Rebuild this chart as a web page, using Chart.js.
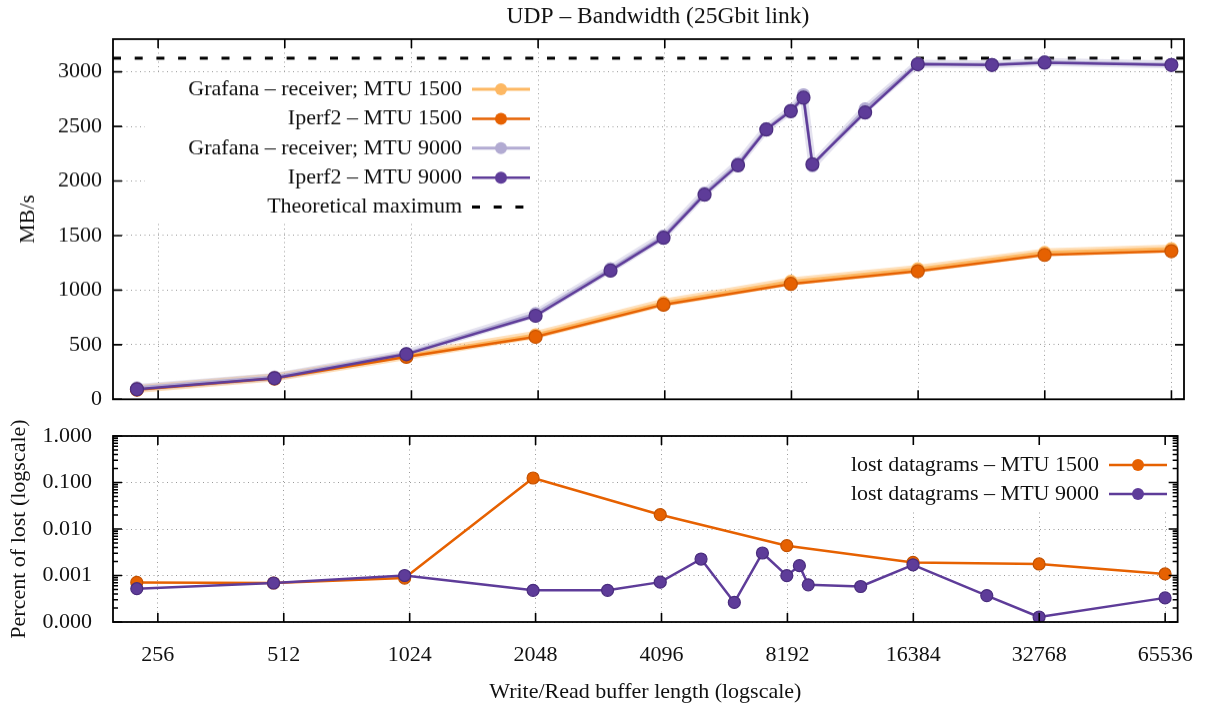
<!DOCTYPE html>
<html>
<head>
<meta charset="utf-8">
<title>UDP - Bandwidth</title>
<script src="https://cdn.jsdelivr.net/npm/chart.js@4.4.0/dist/chart.umd.min.js"></script>
<style>
    html, body { margin: 0; padding: 0; background: #fff; }
    body { width: 1213px; height: 712px; position: relative; overflow: hidden; }
    .panel { position: absolute; left: 0; width: 1213px; }
    #bandwidthPanel { top: 0; height: 411.5px; }
    #lostPanel { top: 410px; height: 302px; }
</style>
</head>
<body>
<div class="panel" id="bandwidthPanel"><canvas id="bandwidthCanvas"></canvas></div>
<div class="panel" id="lostPanel"><canvas id="lostCanvas"></canvas></div>
<script>
const bufferTicks = [256, 512, 1024, 2048, 4096, 8192, 16384, 32768, 65536];
const bandwidthTicks = [0, 500, 1000, 1500, 2000, 2500, 3000];
const lostTicks = [0.0001, 0.001, 0.01, 0.1, 1];

const bufferMtu1500 = [228, 484, 996, 2020, 4068, 8164, 16356, 32740, 65508];
const bufferMtu9000 = [228, 484, 996, 2020, 3044, 4068, 5092, 6116, 7140, 8164, 8750, 9188, 12260, 16356, 24548, 32740, 65508];

const grafana1500 = [95, 200, 398, 590, 885, 1080, 1195, 1345, 1380];
const iperf1500 = [88, 190, 389, 572, 867, 1057, 1173, 1323, 1357];
const grafana9000 = [105, 205, 420, 785, 1195, 1495, 1890, 2160, 2480, 2650, 2790, 2140, 2660, 3075, 3068, 3092, 3068];
const iperf9000 = [92, 193, 413, 765, 1179, 1480, 1875, 2144, 2472, 2640, 2763, 2153, 2628, 3070, 3063, 3085, 3063];
const theoreticalMax = 3125;

const lost1500 = [0.00071, 0.00069, 0.00088, 0.125, 0.0203, 0.00438, 0.00191, 0.00177, 0.00108];
const lost9000 = [0.00052, 0.00069, 0.00100, 0.00048, 0.00048, 0.00072, 0.00226, 0.000264, 0.00305, 0.00099, 0.00163, 0.00063, 0.00058, 0.0017, 0.00037, 0.000128, 0.00033];

const ORANGE = '#e66101';
const LIGHT_ORANGE = '#fdb863';
const LIGHT_PURPLE = '#b2abd2';
const PURPLE = '#5e3c99';
const FONT = '"Liberation Serif", "DejaVu Serif", serif';
const X_MIN = 200;
const X_MAX = 70200;

Chart.defaults.font.family = FONT;
Chart.defaults.font.size = 22;
Chart.defaults.color = '#111';

function toPoints(xs, ys) {
    return xs.map((x, i) => ({ x: x, y: ys[i] }));
}

function lineSet(label, xs, ys, color, width, order, radius, ring) {
    return {
        label: label,
        data: toPoints(xs, ys),
        borderColor: color,
        backgroundColor: color,
        borderWidth: width,
        borderJoinStyle: 'round',
        borderCapStyle: 'round',
        pointRadius: radius,
        pointBackgroundColor: color,
        pointBorderColor: ring || color,
        pointBorderWidth: 1.2,
        tension: 0,
        order: order
    };
}

function bufferAxis(showLabels) {
    return {
        type: 'logarithmic',
        min: X_MIN,
        max: X_MAX,
        afterBuildTicks: (scale) => { scale.ticks = bufferTicks.map(v => ({ value: v })); },
        ticks: { display: showLabels, padding: 20, maxRotation: 0, autoSkip: false, callback: (v) => String(v) },
        grid: { color: '#9a9a9a', lineWidth: 1, drawTicks: false },
        border: { display: false, dash: [1, 3.5] }
    };
}

// the label gap is made with an invisible tick mark so it does not grow the top/bottom padding
function valueGrid(gap) {
    return { color: '#9a9a9a', lineWidth: 1, drawTicks: true, tickLength: gap, tickColor: 'rgba(0,0,0,0)' };
}

// frame, inward ticks on all four sides, white legend box and legend text
const gnuplotFrame = {
    id: 'gnuplotFrame',
    beforeDatasetsDraw(chart, args, opts) {
        const ctx = chart.ctx;
        ctx.save();
        ctx.fillStyle = '#fff';
        ctx.fillRect(opts.box[0], opts.box[1], opts.box[2], opts.box[3]);
        ctx.restore();
    },
    afterDraw(chart, args, opts) {
        const { ctx, chartArea: a, scales } = chart;
        ctx.save();
        ctx.strokeStyle = '#000';
        ctx.lineWidth = 1.6;
        ctx.beginPath();
        bufferTicks.forEach(v => {
            const px = scales.x.getPixelForValue(v);
            ctx.moveTo(px, a.bottom); ctx.lineTo(px, a.bottom - 9);
            ctx.moveTo(px, a.top); ctx.lineTo(px, a.top + 9);
        });
        opts.yMajor.forEach(v => {
            const py = scales.y.getPixelForValue(v);
            ctx.moveTo(a.left, py); ctx.lineTo(a.left + 9, py);
            ctx.moveTo(a.right, py); ctx.lineTo(a.right - 9, py);
        });
        opts.yMinor.forEach(v => {
            const py = scales.y.getPixelForValue(v);
            ctx.moveTo(a.left, py); ctx.lineTo(a.left + 5, py);
            ctx.moveTo(a.right, py); ctx.lineTo(a.right - 5, py);
        });
        ctx.stroke();
        ctx.lineWidth = 1.8;
        ctx.strokeRect(a.left, a.top, a.right - a.left, a.bottom - a.top);

        ctx.font = '22px ' + FONT;
        ctx.textBaseline = 'middle';
        ctx.textAlign = 'right';
        opts.legend.forEach((item, i) => {
            const y = opts.legendTop + i * opts.legendRow;
            const x = opts.legendRight;
            ctx.fillStyle = '#111';
            ctx.fillText(item.label, x, y);
            ctx.strokeStyle = item.color;
            ctx.lineWidth = item.width;
            ctx.setLineDash(item.dash || []);
            ctx.beginPath();
            ctx.moveTo(x + 10, y);
            ctx.lineTo(x + 68, y);
            ctx.stroke();
            ctx.setLineDash([]);
            if (item.marker) {
                ctx.fillStyle = item.color;
                ctx.beginPath();
                ctx.arc(x + 39, y, 6, 0, Math.PI * 2);
                ctx.fill();
            }
        });

        if (opts.title) {
            ctx.font = '23.5px ' + FONT;
            ctx.textAlign = 'center';
            ctx.fillStyle = '#111';
            ctx.fillText(opts.title, 658, 17);
        }
        ctx.restore();
    }
};

function create_BandwidthChart() {
    const context = document.getElementById('bandwidthCanvas').getContext('2d');
    const datasets = [
        lineSet('Iperf2 – MTU 9000', bufferMtu9000, iperf9000, PURPLE, 2.5, 0, 6.5, '#4a2d7e'),
        lineSet('Iperf2 – MTU 1500', bufferMtu1500, iperf1500, ORANGE, 2.5, 1, 6.5, '#c55200'),
        lineSet('Grafana – receiver; MTU 9000', bufferMtu9000, grafana9000, LIGHT_PURPLE, 3, 2, 6),
        lineSet('Grafana – receiver; MTU 1500', bufferMtu1500, grafana1500, LIGHT_ORANGE, 3, 3, 6),
        lineSet('band 9000', bufferMtu9000, grafana9000, 'rgba(178,171,210,0.35)', 8, 4, 0),
        lineSet('band 1500', bufferMtu1500, grafana1500, 'rgba(253,184,99,0.45)', 8, 5, 0),
        {
            label: 'Theoretical maximum',
            data: [{ x: X_MIN, y: theoreticalMax }, { x: X_MAX, y: theoreticalMax }],
            borderColor: '#000',
            borderWidth: 3,
            borderDash: [8, 13.7],
            pointRadius: 0,
            order: 6
        }
    ];

    new Chart(context, {
        type: 'line',
        data: { datasets: datasets },
        options: {
            responsive: true,
            maintainAspectRatio: false,
            animation: false,
            layout: { padding: { top: 39, right: 29, bottom: 0, left: 0 } },
            scales: {
                x: Object.assign(bufferAxis(false), { afterFit: (s) => { s.height = 0; } }),
                y: {
                    min: 0,
                    max: 3300,
                    afterBuildTicks: (scale) => { scale.ticks = bandwidthTicks.map(v => ({ value: v })); },
                    afterFit: (s) => { s.width = 113; },
                    ticks: { padding: 0, callback: (v) => String(v) },
                    grid: valueGrid(11),
                    border: { display: false, dash: [1, 3.5] },
                    title: { display: true, text: 'MB/s', padding: { top: 15, bottom: 0 } }
                }
            },
            plugins: {
                legend: { display: false },
                tooltip: { enabled: false },
                gnuplotFrame: {
                    box: [145, 75, 388, 145],
                    yMajor: bandwidthTicks,
                    yMinor: [],
                    legendTop: 89,
                    legendRow: 29.4,
                    legendRight: 462,
                    title: 'UDP – Bandwidth (25Gbit link)',
                    legend: [
                        { label: 'Grafana – receiver; MTU 1500', color: LIGHT_ORANGE, width: 3, marker: true },
                        { label: 'Iperf2 – MTU 1500', color: ORANGE, width: 2.5, marker: true },
                        { label: 'Grafana – receiver; MTU 9000', color: LIGHT_PURPLE, width: 3, marker: true },
                        { label: 'Iperf2 – MTU 9000', color: PURPLE, width: 2.5, marker: true },
                        { label: 'Theoretical maximum', color: '#000', width: 3, dash: [8, 13.7], marker: false }
                    ]
                }
            }
        },
        plugins: [gnuplotFrame]
    });
}

function create_LostChart() {
    const context = document.getElementById('lostCanvas').getContext('2d');
    const minor = [];
    [0.0001, 0.001, 0.01, 0.1].forEach(d => {
        for (let k = 2; k <= 9; k++) minor.push(d * k);
    });

    new Chart(context, {
        type: 'line',
        data: {
            datasets: [
                lineSet('lost datagrams – MTU 9000', bufferMtu9000, lost9000, PURPLE, 2.5, 0, 6, '#4a2d7e'),
                lineSet('lost datagrams – MTU 1500', bufferMtu1500, lost1500, ORANGE, 2.5, 1, 6, '#c55200')
            ]
        },
        options: {
            responsive: true,
            maintainAspectRatio: false,
            animation: false,
            layout: { padding: { top: 26, right: 29, bottom: 0, left: 0 } },
            scales: {
                x: Object.assign(bufferAxis(true), {
                    afterFit: (s) => { s.height = 90; },
                    title: { display: true, text: 'Write/Read buffer length (logscale)', padding: { top: 0, bottom: 7 } }
                }),
                y: {
                    type: 'logarithmic',
                    min: 0.0001,
                    max: 1,
                    afterBuildTicks: (scale) => { scale.ticks = lostTicks.map(v => ({ value: v })); },
                    afterFit: (s) => { s.width = 113; },
                    ticks: { padding: 0, callback: (v) => Number(v).toFixed(3) },
                    grid: valueGrid(21),
                    border: { display: false, dash: [1, 3.5] },
                    title: { display: true, text: 'Percent of lost (logscale)', padding: { top: 6, bottom: 0 } }
                }
            },
            plugins: {
                legend: { display: false },
                tooltip: { enabled: false },
                gnuplotFrame: {
                    box: [809, 26, 380, 74],
                    yMajor: lostTicks,
                    yMinor: minor,
                    legendTop: 55,
                    legendRow: 29,
                    legendRight: 1099,
                    title: null,
                    legend: [
                        { label: 'lost datagrams – MTU 1500', color: ORANGE, width: 2.5, marker: true },
                        { label: 'lost datagrams – MTU 9000', color: PURPLE, width: 2.5, marker: true }
                    ]
                }
            }
        },
        plugins: [gnuplotFrame]
    });
}

window.onload = () => {
    create_BandwidthChart();
    create_LostChart();
};
</script>
</body>
</html>
